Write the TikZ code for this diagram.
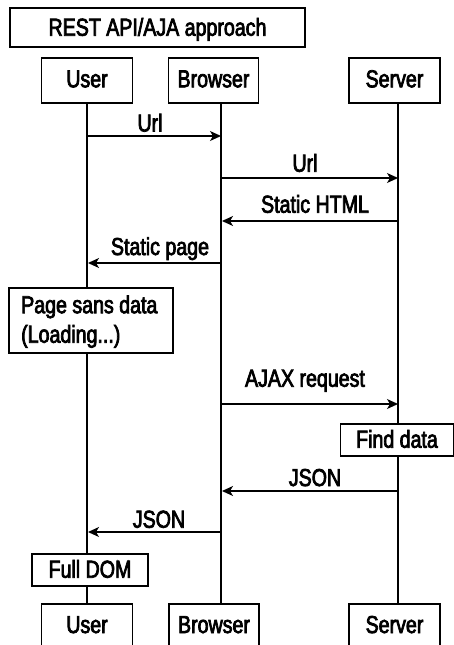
\documentclass[tikz,border=0pt]{standalone}
\usepackage{fontspec}
\setmainfont{Liberation Sans}[FakeStretch=0.8,FakeBold=3]
\usetikzlibrary{arrows.meta}
\begin{document}
\begin{tikzpicture}[x=1pt,y=-1pt,
  every node/.style={font=\fontsize{24.5}{29.5}\selectfont},
  box/.style={draw, line width=1.4pt, inner sep=0pt, fill=white, text depth=0pt},
  actor/.style={box, minimum width=91pt, minimum height=45pt},
  life/.style={line width=1.4pt},
  msg/.style={line width=1.4pt, -{Stealth[length=11pt,width=10pt,inset=3pt]}},
  lbl/.style={inner sep=0pt, anchor=base}]
\useasboundingbox (0,0) rectangle (453,645);
\fill[white] (0,0) rectangle (453,645);
% lifeline points
\coordinate (uT) at (87,103); \coordinate (uB) at (87,604);
\coordinate (bT) at (221,103); \coordinate (bB) at (221,604);
\coordinate (sT) at (398,103); \coordinate (sB) at (398,604);
\draw[life] (uT) -- (uB);
\draw[life] (bT) -- (bB);
\draw[life] (sT) -- (sB);
% title
\node[box, minimum width=295pt, minimum height=39pt, text height=16.4pt] (title) at (157.5,27.5) {REST API/AJA approach};
% actors top
\node[actor, text height=13.6pt] (userT) at (87,80.5) {User};
\node[actor, minimum width=90pt, text height=13.6pt] (browserT) at (213.5,80.5) {Browser};
\node[actor, text height=13.6pt] (serverT) at (394.5,80.5) {Server};
% actors bottom
\node[actor, text height=13pt] (userB) at (87,626.5) {User};
\node[actor, minimum width=90pt, text height=13pt] (browserB) at (214,626.5) {Browser};
\node[actor, text height=13pt] (serverB) at (394.5,626.5) {Server};
% messages
\coordinate (m1a) at (87,136); \coordinate (m1b) at (221,136);
\draw[msg] (m1a) -- (m1b);
\node[lbl] (l1) at (150,131.5) {Url};
\coordinate (m2a) at (221,178); \coordinate (m2b) at (398,178);
\draw[msg] (m2a) -- (m2b);
\node[lbl] (l2) at (305,171.7) {Url};
\coordinate (m3a) at (398,221); \coordinate (m3b) at (222,221);
\draw[msg] (m3a) -- (m3b);
\node[lbl] (l3) at (315,212.7) {Static HTML};
\coordinate (m4a) at (221,263); \coordinate (m4b) at (88,263);
\draw[msg] (m4a) -- (m4b);
\node[lbl] (l4) at (160,255) {Static page};
% page sans data
\node[box, minimum width=164pt, minimum height=65pt] (psd) at (91,320.5) {};
\node[inner sep=0pt, anchor=base west, align=left] (psdtext) at (21,342.7) {Page sans data\\(Loading...)};
% ajax
\coordinate (m5a) at (221,404); \coordinate (m5b) at (398,404);
\draw[msg] (m5a) -- (m5b);
\node[lbl] (l5) at (305,386.7) {AJAX request};
\node[box, minimum width=113pt, minimum height=32pt, text height=15.4pt] (find) at (397,440) {Find data};
\coordinate (m6a) at (398,491); \coordinate (m6b) at (222,491);
\draw[msg] (m6a) -- (m6b);
\node[lbl] (l6) at (315,486) {JSON};
\coordinate (m7a) at (221,532); \coordinate (m7b) at (88,532);
\draw[msg] (m7a) -- (m7b);
\node[lbl] (l7) at (159,527.7) {JSON};
\node[box, minimum width=116pt, minimum height=32pt, text height=15.4pt] (dom) at (90,570) {Full DOM};
\end{tikzpicture}
\end{document}
